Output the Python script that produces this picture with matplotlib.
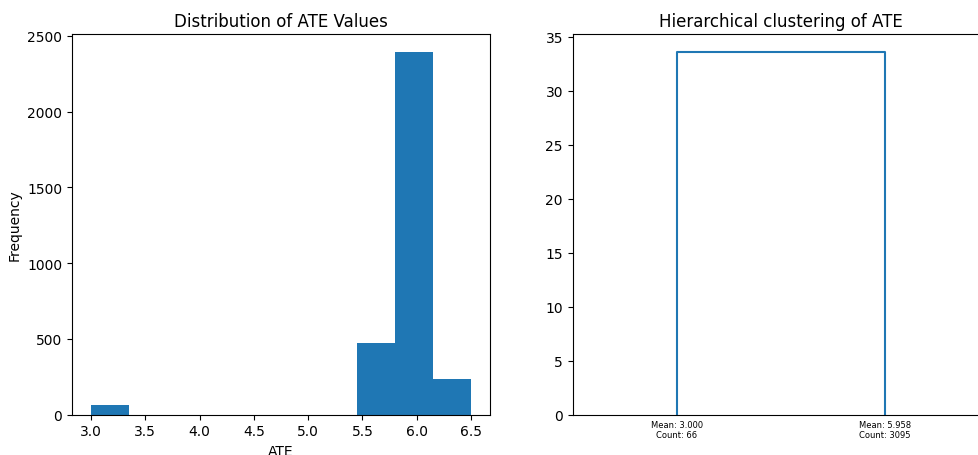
import matplotlib.pyplot as plt
import numpy as np

# histogram of ATE values (10 equal-width bins)
bin_edges = [3.0, 3.35, 3.7, 4.05, 4.4, 4.75, 5.1, 5.45, 5.8, 6.15, 6.5]
bin_counts = [66, 0, 0, 0, 0, 0, 0, 470, 2390, 235]

# two-cluster linkage result
cluster_means = [3.000, 5.958]
cluster_counts = [66, 3095]
merge_height = 33.55

W, H = 979, 456
fig = plt.figure(figsize=(W / 100, H / 100), dpi=100)

# left panel: histogram
ax1 = fig.add_axes([72 / W, (H - 415.7) / H, 418 / W, 380.4 / H])
ax1.hist(bin_edges[:-1], bins=bin_edges, weights=bin_counts, color='#1f77b4')
ax1.set_title("Distribution of ATE Values", fontsize=12)
ax1.set_xlabel("ATE")
ax1.set_ylabel("Frequency")

# right panel: dendrogram drawn the way scipy lays it out (leaves at 5, 15, ...)
ax2 = fig.add_axes([572.7 / W, (H - 415.7) / H, 416 / W, 380.4 / H])
leaf_x = [5 + 10 * i for i in range(len(cluster_means))]
ax2.plot([leaf_x[0], leaf_x[0], leaf_x[1], leaf_x[1]],
         [0, merge_height, merge_height, 0], color='#1f77b4', lw=1.5)
ax2.set_xlim(0, 10 * len(cluster_means))
ax2.set_ylim(0, merge_height * 1.05)
ax2.set_xticks(leaf_x)
ax2.set_xticklabels([f"Mean: {m:.3f}\nCount: {c}" for m, c in zip(cluster_means, cluster_counts)],
                    fontsize=6)
ax2.tick_params(axis='x', length=0)
ax2.set_title("Hierarchical clustering of ATE", fontsize=12)

fig.savefig("out.png", dpi=100)
